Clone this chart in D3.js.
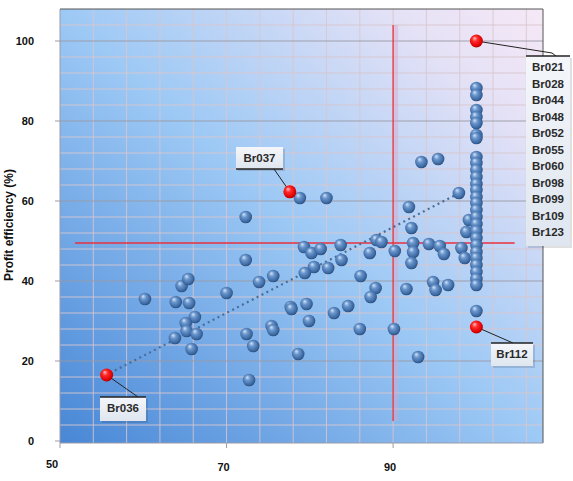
<!DOCTYPE HTML>
<html>

<head>
  <meta charset="utf-8">
  <title>profit efficiency</title>
  <script src="https://d3js.org/d3.v7.min.js"></script>
  <style>
    body { margin: 0; background: #fff; }
    text { font-family: "Liberation Sans", Arial, sans-serif; }
  </style>
</head>

<body>
  <script>
    // blue branches: cost efficiency (x) vs profit efficiency (y)
    const effX = [60.2, 63.9, 64.6, 65.4, 65.5, 66.2, 65.1, 65.2, 66.4, 63.8, 65.8, 70.0, 72.3, 72.4, 73.2,
      73.9, 75.6, 75.4, 75.6, 72.7, 77.7, 77.8, 78.6, 79.6, 79.9, 82.9, 84.6, 86.0, 90.1, 79.3,
      80.2, 81.3, 83.7, 83.8, 80.5, 79.4, 82.2, 86.1, 87.2, 88.0, 88.6, 87.9, 87.3, 90.2, 92.4,
      92.4, 92.2, 94.3, 95.6, 96.1, 98.2, 98.6, 94.8, 95.1, 96.6, 91.6, 93.0, 93.4, 95.4, 97.9,
      91.9, 92.2, 99.1, 98.8, 78.8, 82.0, 72.3];
    const effY = [35.5, 34.75, 38.75, 40.5, 34.5, 31, 29.5, 27.5, 26.75, 25.75, 23, 37, 45.25, 26.75, 23.75,
      39.75, 41.25, 28.75, 27.75, 15.25, 33.5, 33, 21.75, 34.25, 30, 32, 33.75, 28, 28, 48.5,
      47, 48, 49, 45.25, 43.5, 42, 43.25, 41.25, 47, 50.25, 49.75, 38.25, 36, 47.5, 49.5,
      47.25, 44.5, 49.25, 48.75, 46.75, 48.25, 45.75, 39.75, 37.75, 39, 38, 21, 69.75, 70.5, 62,
      58.5, 53.25, 55.25, 52.25, 60.75, 60.75, 56];
    // the fully cost-efficient column (x = 100)
    const frontierY = [88.25, 86.5, 82.75, 81, 79.5, 76.5, 75.75, 71, 69.5, 67.75, 66, 64.25, 62.75, 61,
      59.5, 57.75, 56, 54.25, 52.5, 50.75, 49, 47.25, 45.75, 44, 42.25, 40.5, 39, 32.5];

    // highlighted branches
    const markNames = ['Br036', 'Br037', 'Br021', 'Br112'];
    const markX = [55.6, 77.6, 100, 100];
    const markY = [16.5, 62.3, 100, 28.5];
    const groupNames = ['Br021', 'Br028', 'Br044', 'Br048', 'Br052', 'Br055', 'Br060', 'Br098', 'Br099', 'Br109', 'Br123'];

    const xLabels = [50, 70, 90];
    const yLabels = [0, 20, 40, 60, 80, 100];
    const gridStep = 4;
    const meanX = 90;
    const meanY = 49.5;
    const trendX = [56, 97.5];
    const trendY = [17, 61.5];

    const W = 573, H = 481;
    const x = d3.scaleLinear().domain([50, 108]).range([60, 543]);
    const y = d3.scaleLinear().domain([-0.5, 108]).range([443, 9]);

    const svg = d3.select('body').append('svg')
      .attr('width', W)
      .attr('height', H);

    const defs = svg.append('defs');

    const bg = defs.append('linearGradient')
      .attr('id', 'bg')
      .attr('x1', 0).attr('y1', 1).attr('x2', 1).attr('y2', 0);
    bg.append('stop').attr('offset', 0).attr('stop-color', '#4887d6');
    bg.append('stop').attr('offset', 0.5).attr('stop-color', '#9dc9f5');
    bg.append('stop').attr('offset', 0.85).attr('stop-color', '#e6e2f6');
    bg.append('stop').attr('offset', 1).attr('stop-color', '#f6e8f6');

    const ball = (id, c0, c1, c2, c3) => {
      const g = defs.append('radialGradient')
        .attr('id', id)
        .attr('cx', '45%').attr('cy', '45%').attr('r', '60%')
        .attr('fx', '35%').attr('fy', '28%');
      g.append('stop').attr('offset', 0).attr('stop-color', c0);
      g.append('stop').attr('offset', 0.35).attr('stop-color', c1);
      g.append('stop').attr('offset', 0.8).attr('stop-color', c2);
      g.append('stop').attr('offset', 1).attr('stop-color', c3);
    };
    ball('blueBall', '#d2e3f7', '#6a96cd', '#3a67a0', '#24426b');
    ball('redBall', '#ffc0c0', '#ff2a2a', '#e00000', '#990000');

    const boxFill = defs.append('linearGradient')
      .attr('id', 'boxFill')
      .attr('x1', 0).attr('y1', 0).attr('x2', 0).attr('y2', 1);
    boxFill.append('stop').attr('offset', 0).attr('stop-color', '#f4f6fa');
    boxFill.append('stop').attr('offset', 1).attr('stop-color', '#dfe6ef');

    const x0 = x.range()[0], x1 = x.range()[1];
    const y0 = y.range()[0], y1 = y.range()[1];

    // plot background
    svg.append('rect')
      .attr('x', x0).attr('y', y1)
      .attr('width', x1 - x0).attr('height', y0 - y1)
      .attr('fill', 'url(#bg)');

    // grid
    const gx = d3.range(50 + gridStep, 108, gridStep);
    const gy = d3.range(gridStep, 108, gridStep);
    svg.append('g').selectAll('line')
      .data(gx)
      .join('line')
      .attr('x1', d => x(d)).attr('x2', d => x(d))
      .attr('y1', y1).attr('y2', y0)
      .attr('stroke', '#d9c7cf').attr('stroke-width', 1).attr('opacity', 0.85);
    svg.append('g').selectAll('line')
      .data(gy)
      .join('line')
      .attr('x1', x0).attr('x2', x1)
      .attr('y1', d => y(d)).attr('y2', d => y(d))
      .attr('stroke', d => d % 20 === 0 ? '#9a9aa6' : '#d9c7cf')
      .attr('stroke-width', 1).attr('opacity', 0.9);

    // frame
    svg.append('path')
      .attr('d', `M${x0},${y1}H${x1}V${y0}`)
      .attr('fill', 'none').attr('stroke', '#555').attr('stroke-width', 1);
    svg.append('path')
      .attr('d', `M${x0},${y1}V${y0}H${x1}`)
      .attr('fill', 'none').attr('stroke', '#9a9aa6').attr('stroke-width', 1);

    // axes ticks + labels
    svg.append('g').selectAll('line')
      .data(yLabels)
      .join('line')
      .attr('x1', x0 - 5).attr('x2', x0)
      .attr('y1', d => y(d)).attr('y2', d => y(d))
      .attr('stroke', '#9a9aa6');
    svg.append('g').selectAll('text')
      .data(yLabels)
      .join('text')
      .attr('x', 34).attr('y', d => y(d) + 4)
      .attr('text-anchor', 'end')
      .attr('font-size', 11).attr('font-weight', 'bold').attr('fill', '#111')
      .text(d => d);
    svg.append('g').selectAll('line')
      .data(xLabels)
      .join('line')
      .attr('x1', d => x(d)).attr('x2', d => x(d))
      .attr('y1', y0).attr('y2', y0 + 5)
      .attr('stroke', '#9a9aa6');
    svg.append('g').selectAll('text')
      .data(xLabels)
      .join('text')
      .attr('x', d => x(d) + (d === 50 ? -8 : -3))
      .attr('y', d => d === 50 ? 468 : 471)
      .attr('text-anchor', 'middle')
      .attr('font-size', 11).attr('font-weight', 'bold').attr('fill', '#111')
      .text(d => d);

    svg.append('text')
      .attr('transform', 'translate(13,225) rotate(-90)')
      .attr('text-anchor', 'middle')
      .attr('font-size', 12).attr('font-weight', 'bold').attr('fill', '#111')
      .text('Profit efficiency (%)');

    // mean lines
    svg.append('line')
      .attr('x1', x(meanX) + 3).attr('x2', x(meanX) + 3)
      .attr('y1', y(104)).attr('y2', y(5))
      .attr('stroke', '#d8a8c8').attr('stroke-width', 4).attr('opacity', 0.45);
    svg.append('line')
      .attr('x1', x(meanX)).attr('x2', x(meanX))
      .attr('y1', y(104)).attr('y2', y(5))
      .attr('stroke', '#e8303c').attr('stroke-width', 1.3);
    svg.append('line')
      .attr('x1', x(51.8)).attr('x2', x(104.6))
      .attr('y1', y(meanY)).attr('y2', y(meanY))
      .attr('stroke', '#e8303c').attr('stroke-width', 1.3);

    // trend
    svg.append('line')
      .attr('x1', x(trendX[0])).attr('y1', y(trendY[0]))
      .attr('x2', x(trendX[1])).attr('y2', y(trendY[1]))
      .attr('stroke', '#4a6d98').attr('stroke-width', 2.2)
      .attr('stroke-dasharray', '2,3.5');

    // points
    const pts = effX.map((v, i) => ({ x: v, y: effY[i] }))
      .concat(frontierY.map(v => ({ x: 100, y: v })));
    const dots = svg.append('g');
    dots.selectAll('circle')
      .data(pts)
      .join('circle')
      .attr('cx', d => x(d.x)).attr('cy', d => y(d.y))
      .attr('r', 6.3)
      .attr('fill', 'url(#blueBall)');

    const marks = markNames.map((n, i) => ({ name: n, x: markX[i], y: markY[i] }));

    // callouts
    const callout = (bx, by, bw, bh, edge, tx, ty, px, py, lines) => {
      const g = svg.append('g');
      g.append('line')
        .attr('x1', px).attr('y1', py).attr('x2', tx).attr('y2', ty)
        .attr('stroke', '#222').attr('stroke-width', 1);
      g.append('rect')
        .attr('x', bx + 2).attr('y', by + 2).attr('width', bw).attr('height', bh)
        .attr('fill', '#000').attr('opacity', 0.12);
      g.append('rect')
        .attr('x', bx).attr('y', by).attr('width', bw).attr('height', bh)
        .attr('fill', 'url(#boxFill)');
      const ey = edge === 'top' ? by : by + bh;
      g.append('line')
        .attr('x1', bx).attr('x2', bx + bw).attr('y1', ey).attr('y2', ey)
        .attr('stroke', '#222').attr('stroke-width', 1.4);
      lines.forEach((t, i) => {
        g.append('text')
          .attr('x', bx + bw / 2).attr('y', by + 15 + i * 16.5)
          .attr('text-anchor', 'middle')
          .attr('font-size', 11.5).attr('font-weight', 'bold').attr('fill', '#2a2a2a')
          .text(t);
      });
    };

    const m036 = marks[0], m037 = marks[1], m021 = marks[2], m112 = marks[3];
    callout(100, 397, 46, 24, 'top', 138, 397, x(m036.x), y(m036.y), [m036.name]);
    callout(236, 147, 47, 22, 'bottom', 274, 169, x(m037.x), y(m037.y), [m037.name]);
    callout(491, 343, 42, 23, 'top', 513, 343, x(m112.x), y(m112.y), [m112.name]);
    svg.append('path')
      .attr('d', `M${x(m021.x)},${y(m021.y)}L552,53L556,56`)
      .attr('fill', 'none').attr('stroke', '#222').attr('stroke-width', 1);
    callout(526, 56, 44, 190, 'top', 556, 56, 556, 56, groupNames);

    svg.append('g').selectAll('circle')
      .data(marks)
      .join('circle')
      .attr('cx', d => x(d.x)).attr('cy', d => y(d.y))
      .attr('r', 6.5)
      .attr('fill', 'url(#redBall)');
  </script>
</body>

</html>
